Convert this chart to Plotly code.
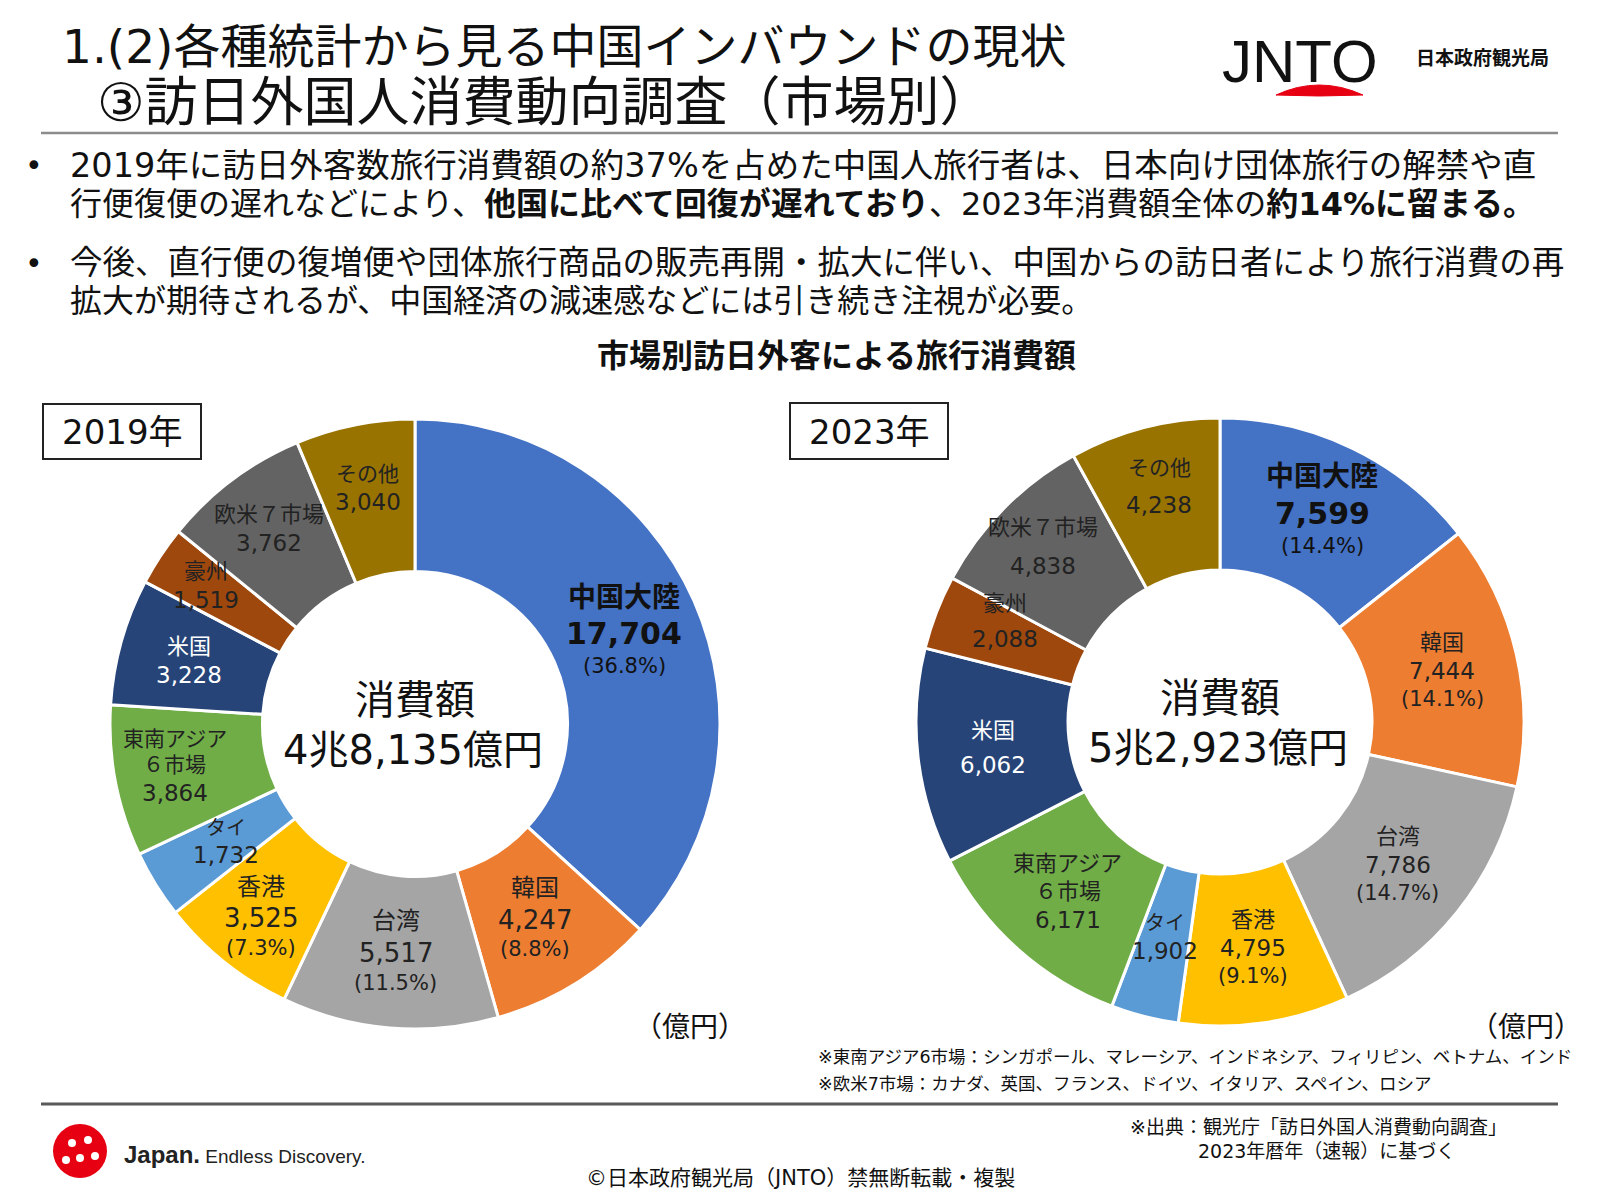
import math
import plotly.graph_objects as go

W, H = 1600, 1200

# ---------------- data ----------------
markets = ["中国大陸", "韓国", "台湾", "香港", "タイ", "東南アジア６市場",
           "米国", "豪州", "欧米７市場", "その他"]
label_lines = [["中国大陸"], ["韓国"], ["台湾"], ["香港"], ["タイ"], ["東南アジア", "６市場"],
               ["米国"], ["豪州"], ["欧米７市場"], ["その他"]]
values_2019 = [17704, 4247, 5517, 3525, 1732, 3864, 3228, 1519, 3762, 3040]
values_2023 = [7599, 7444, 7786, 4795, 1902, 6171, 6062, 2088, 4838, 4238]
total_2019 = 48135
total_2023 = 52923
year_labels = ["2019年", "2023年"]
show_pct = [True, True, True, True, False, False, False, False, False, False]

# ---------------- styles ----------------
FONT = "DejaVu Sans, Noto Sans CJK JP, sans-serif"
CJK = "Noto Sans CJK JP, sans-serif"
colors = ["#4472C4", "#ED7D31", "#A5A5A5", "#FFC000", "#5B9BD5", "#70AD47",
          "#264478", "#9E480E", "#636363", "#997300"]
txt_colors = ["#111111", "#222222", "#222222", "#222222", "#222222", "#222222",
              "#FFFFFF", "#222222", "#222222", "#222222"]
bold_flags = [True] + [False] * 9
name_sizes = {
    0: [28, 24, 24, 24, 20, 21, 22, 22, 22, 21],
    1: [28, 22, 22, 22, 20, 22, 22, 22, 22, 21],
}
value_sizes = {
    0: [30, 26, 26, 26, 23, 23, 23, 23, 23, 23],
    1: [30, 23, 23, 23, 23, 23, 23, 23, 23, 23],
}
radius_factor = {
    0: [0.75, 0.75, 0.75, 0.81, 0.73, 0.80, 0.77, 0.82, 0.80, 0.79],
    1: [0.77, 0.75, 0.75, 0.75, 0.73, 0.75, 0.75, 0.78, 0.82, 0.80],
}
angle_offset = {
    0: [0, 0, 0, 0, 0, 1, 0, 0, 0, 0],
    1: [0, 0, 0, 0, 0, 0, 0, 4, 0, 0],
}
extra_gap = {
    0: [0, 0, 0, 0, 0, 0, 0, 0, 0, 0],
    1: [0, 0, 0, 0, 0, 0, 6, 8, 10, 10],
}
PCT_SIZE = 21

# donut geometry (pixels)
donuts = [
    dict(cx=415, cy=724, r=305),
    dict(cx=1220, cy=722, r=304),
]
HOLE = 0.5


def px(x):
    return x / W


def py(y):
    return 1 - y / H


annotations = []
shapes = []


def ann(text, x, y, size, color="#000000", xanchor="center", yanchor="middle",
        family=FONT, align="center"):
    annotations.append(dict(
        text=text, x=px(x), y=py(y), xref="paper", yref="paper",
        xanchor=xanchor, yanchor=yanchor, showarrow=False, align=align,
        font=dict(size=size, color=color, family=family),
    ))


def fmt_total(v):
    cho, oku = divmod(v, 10000)
    return f"{cho}兆{oku:,}億円"


fig = go.Figure()

for i, (vals, total) in enumerate([(values_2019, total_2019), (values_2023, total_2023)]):
    g = donuts[i]
    fig.add_trace(go.Pie(
        labels=markets, values=vals, sort=False, direction="clockwise",
        rotation=0, hole=HOLE, textinfo="none", hoverinfo="label+value+percent",
        marker=dict(colors=colors, line=dict(color="white", width=3)),
        domain=dict(x=[px(g["cx"] - g["r"]), px(g["cx"] + g["r"])],
                    y=[py(g["cy"] + g["r"]), py(g["cy"] - g["r"])]),
        showlegend=False,
    ))
    s = sum(vals)
    cum = 0
    for k, v in enumerate(vals):
        theta = 2 * math.pi * (cum + v / 2) / s + math.radians(angle_offset[i][k])
        cum += v
        rl = radius_factor[i][k] * g["r"]
        lx = g["cx"] + rl * math.sin(theta)
        ly = g["cy"] - rl * math.cos(theta)
        ns = name_sizes[i][k]
        vs = value_sizes[i][k]
        lines = [(t, ns, bold_flags[k]) for t in label_lines[k]]
        lines.append((f"{v:,}", vs, bold_flags[k]))
        if show_pct[k]:
            lines.append((f"({100 * v / s:.1f}%)", PCT_SIZE, False))
        gaps = []
        for a, b in zip(lines[:-1], lines[1:]):
            gaps.append(0.63 * (a[1] + b[1]) + extra_gap[i][k])
        total_h = sum(gaps)
        y = ly - total_h / 2
        for j, (t, sz, b) in enumerate(lines):
            ann(f"<b>{t}</b>" if b else t, lx, y, sz, color=txt_colors[k])
            if j < len(gaps):
                y += gaps[j]
    # centre text
    ann("消費額", g["cx"], g["cy"] - 24, 40, color="#111111")
    ann(fmt_total(total), g["cx"] - 2, g["cy"] + 26, 40, color="#111111")

# year boxes
boxes = [(43, 404, 201, 459), (790, 403, 948, 459)]
for (x0, y0, x1, y1), lab in zip(boxes, year_labels):
    shapes.append(dict(type="rect", xref="paper", yref="paper",
                       x0=px(x0), x1=px(x1), y0=py(y1), y1=py(y0),
                       line=dict(color="#222222", width=2), fillcolor="white"))
    ann(lab, (x0 + x1) / 2, (y0 + y1) / 2 + 1, 34, color="#111111")

# units
ann("（億円）", 690, 1027, 28, color="#111111")
ann("（億円）", 1526, 1027, 28, color="#111111")

# title
ann("1.(2)各種統計から見る中国インバウンドの現状", 60, 46, 47, color="#111111",
    xanchor="left")
ann("③訪日外国人消費動向調査（市場別）", 95, 103, 53, color="#111111", xanchor="left")

shapes.append(dict(type="line", xref="paper", yref="paper", x0=px(41), x1=px(1558),
                   y0=py(133), y1=py(133), line=dict(color="#8C8C8C", width=2.5)))
shapes.append(dict(type="line", xref="paper", yref="paper", x0=px(41), x1=px(1558),
                   y0=py(1104), y1=py(1104), line=dict(color="#595959", width=3)))

# JNTO logo
ann("JNTO", 1300, 62, 60, color="#111111", family="Liberation Sans, DejaVu Sans")
arc = (f"M {px(1276)} {py(95)} Q {px(1319)} {py(75)} {px(1363)} {py(95)} "
       f"Q {px(1319)} {py(97)} {px(1276)} {py(95)} Z")
shapes.append(dict(type="path", xref="paper", yref="paper", path=arc,
                   fillcolor="#E60012", line=dict(color="#E60012", width=1)))
ann("<b>日本政府観光局</b>", 1482, 57, 19, color="#111111", family=CJK)

# bullets
bul = [
    (166, "2019年に訪日外客数旅行消費額の約37%を占めた中国人旅行者は、日本向け団体旅行の解禁や直", True, 33.5),
    (204, "行便復便の遅れなどにより、<b>他国に比べて回復が遅れており</b>、2023年消費額全体の<b>約14%に留まる。</b>", False, 32),
    (263, "今後、直行便の復増便や団体旅行商品の販売再開・拡大に伴い、中国からの訪日者により旅行消費の再", True, 32.5),
    (301, "拡大が期待されるが、中国経済の減速感などには引き続き注視が必要。", False, 32),
]
for y, t, dot, sz in bul:
    if dot:
        ann("•", 34, y, 30, color="#111111", xanchor="center")
    ann(t, 68, y, sz, color="#111111", xanchor="left", align="left")

# chart title
ann("<b>市場別訪日外客による旅行消費額</b>", 837, 353, 32, color="#111111", family=CJK)

# notes
ann("※東南アジア6市場：シンガポール、マレーシア、インドネシア、フィリピン、ベトナム、インド",
    816, 1057, 17.5, color="#111111", xanchor="left", align="left")
ann("※欧米7市場：カナダ、英国、フランス、ドイツ、イタリア、スペイン、ロシア",
    816, 1084, 17.5, color="#111111", xanchor="left", align="left")
ann("※出典：観光庁「訪日外国人消費動向調査」", 1128, 1127, 19, color="#111111",
    xanchor="left", align="left")
ann("2023年暦年（速報）に基づく", 1326, 1151, 19, color="#111111")
ann("©日本政府観光局（JNTO）禁無断転載・複製", 800, 1178, 21, color="#111111")

# Japan. Endless Discovery. logo
shapes.append(dict(type="circle", xref="paper", yref="paper",
                   x0=px(53), x1=px(107), y0=py(1178), y1=py(1124),
                   fillcolor="#E60012", line=dict(color="#E60012", width=0)))
for (dx, dy) in [(72, 1143), (88, 1140), (80, 1158), (95, 1156), (66, 1160)]:
    shapes.append(dict(type="circle", xref="paper", yref="paper",
                       x0=px(dx - 4), x1=px(dx + 4), y0=py(dy + 4), y1=py(dy - 4),
                       fillcolor="white", line=dict(color="white", width=0)))
ann("<b>Japan.</b><span style='font-size:19px'> Endless Discovery.</span>", 122, 1154, 24,
    color="#222222", xanchor="left", family="Liberation Sans, DejaVu Sans", align="left")

fig.update_layout(
    width=W, height=H, margin=dict(l=0, r=0, t=0, b=0),
    paper_bgcolor="white", plot_bgcolor="white",
    annotations=annotations, shapes=shapes, showlegend=False,
)

fig.write_html("out.html")
